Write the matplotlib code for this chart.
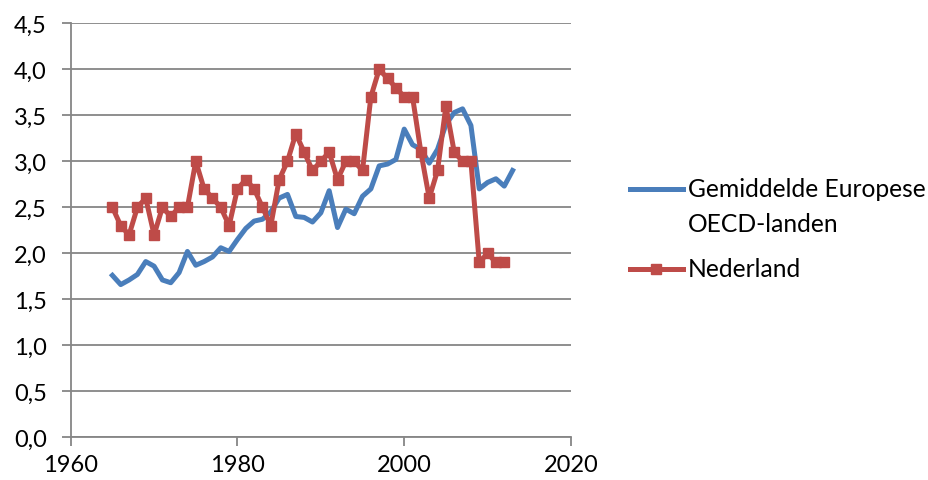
import matplotlib.pyplot as plt
from matplotlib.lines import Line2D
from matplotlib.ticker import MultipleLocator, FuncFormatter

# jaren en waarden
years_eu = list(range(1965, 2014))
eu = [1.76, 1.66, 1.71, 1.77, 1.91, 1.86, 1.71, 1.68, 1.79, 2.02,
      1.87, 1.91, 1.96, 2.06, 2.02, 2.15, 2.27, 2.35, 2.37, 2.45,
      2.60, 2.64, 2.40, 2.39, 2.34, 2.44, 2.68, 2.28, 2.48, 2.43,
      2.62, 2.70, 2.95, 2.97, 3.02, 3.35, 3.18, 3.13, 2.98, 3.13,
      3.40, 3.53, 3.57, 3.39, 2.70, 2.77, 2.81, 2.73, 2.90]

years_nl = list(range(1965, 2013))
nl = [2.5, 2.3, 2.2, 2.5, 2.6, 2.2, 2.5, 2.4, 2.5, 2.5,
      3.0, 2.7, 2.6, 2.5, 2.3, 2.7, 2.8, 2.7, 2.5, 2.3,
      2.8, 3.0, 3.3, 3.1, 2.9, 3.0, 3.1, 2.8, 3.0, 3.0,
      2.9, 3.7, 4.0, 3.9, 3.8, 3.7, 3.7, 3.1, 2.6, 2.9,
      3.6, 3.1, 3.0, 3.0, 1.9, 2.0, 1.9, 1.9]

labels = ['Gemiddelde Europese\nOECD-landen', 'Nederland']
blue = '#4A7EBB'
red = '#BE4B48'
grey = '#868686'

plt.rcParams['font.family'] = ['Lato', 'DejaVu Sans']
plt.rcParams['font.size'] = 17

fig = plt.figure(figsize=(9.29, 4.81), dpi=100)
ax = fig.add_axes([0.0761, 0.0888, 0.5385, 0.8607])

ax.plot(years_eu, eu, color=blue, lw=3.6, solid_joinstyle='round', zorder=3)
ax.plot(years_nl, nl, color=red, lw=3.6, marker='s', markersize=6.5, zorder=4)

ax.set_xlim(1960, 2020)
ax.set_ylim(0, 4.5)
ax.xaxis.set_major_locator(MultipleLocator(20))
ax.yaxis.set_major_locator(MultipleLocator(0.5))
ax.yaxis.set_major_formatter(FuncFormatter(lambda v, p: f'{v:.1f}'.replace('.', ',')))

ax.grid(axis='y', color=grey, lw=1.3)
ax.set_axisbelow(True)
for s in ['top', 'right']:
    ax.spines[s].set_visible(False)
for s in ['left', 'bottom']:
    ax.spines[s].set_color(grey)
    ax.spines[s].set_linewidth(1.3)
ax.tick_params(axis='both', colors=grey, labelcolor='black', width=1.3, length=6.3)
ax.tick_params(axis='y', pad=11)
ax.tick_params(axis='x', pad=6)

# legenda rechts, handle op de eerste regel van het label
hx0, hx1, tx = 0.678, 0.735, 0.7406
rows = [(0.605, blue, None), (0.4387, red, 's')]
for (y, c, m), lab in zip(rows, labels):
    fig.add_artist(Line2D([hx0, hx1], [y, y], transform=fig.transFigure,
                          color=c, lw=3.6))
    if m:
        fig.add_artist(Line2D([(hx0 + hx1) / 2], [y], transform=fig.transFigure,
                              color=c, marker=m, markersize=6.5))
    for i, line in enumerate(lab.split('\n')):
        fig.text(tx, y - i * 0.0707, line, fontsize=17.7, va='center', ha='left')

fig.savefig('out.png', dpi=100)
